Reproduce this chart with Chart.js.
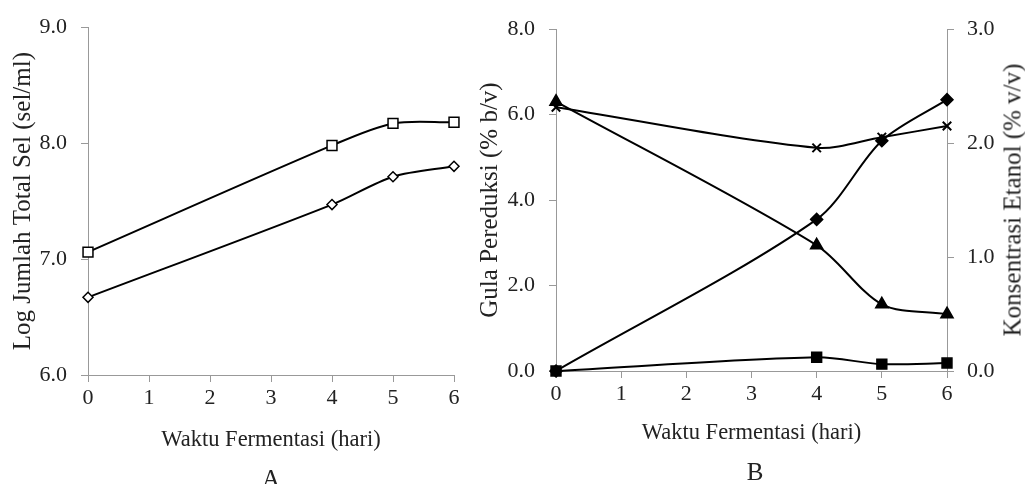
<!DOCTYPE html>
<html>
<head>
<meta charset="utf-8">
<script src="https://cdn.jsdelivr.net/npm/chart.js@4.4.1/dist/chart.umd.min.js"></script>
<style>
  body { margin: 0; background: #fff; }
  #wrap { position: relative; width: 1025px; height: 484px; overflow: hidden; }
  canvas { position: absolute; top: 0; }
  .lbl { position: absolute; font-family: "Liberation Serif", serif; font-size: 25px; line-height: 25px; color: #222; transform: translateX(-50%); }
  .rtitle { position: absolute; font-family: "Liberation Serif", serif; font-size: 25px; line-height: 25px; color: #222; white-space: nowrap;
    transform: translate(-50%, -50%) rotate(-90deg); }
</style>
</head>
<body>
<div id="wrap">
  <canvas id="chartA" width="470" height="484" style="left:0;width:470px;height:484px"></canvas>
  <canvas id="chartB" width="555" height="484" style="left:470px;width:555px;height:484px"></canvas>
  <div class="lbl" style="left:271px;top:466px">A</div>
  <div class="lbl" style="left:755px;top:459px">B</div>
  <div class="rtitle" style="left:1012px;top:200px">Konsentrasi Etanol (% v/v)</div>
</div>
<script>
// hari fermentasi
const days = [0, 4, 5, 6];

// grafik A: log jumlah total sel
const selKotak = [7.06, 7.98, 8.17, 8.18];
const selBelah = [6.67, 7.47, 7.71, 7.80];

// grafik B: gula pereduksi (sumbu kiri) & etanol (sumbu kanan)
const gulaSegitiga = [6.30, 2.94, 1.56, 1.33];
const gulaSilang = [6.17, 5.22, 5.47, 5.73];
const etanolBelah = [0.00, 1.33, 2.02, 2.38];
const etanolKotak = [0.00, 0.12, 0.06, 0.07];

const fontFam = '"Liberation Serif", "Times New Roman", serif';
const txt = '#222';
const axisCol = '#999';

function pts(vals) {
  return days.map((d, i) => ({ x: d, y: vals[i] }));
}

function line(vals, style, r, fill, axis) {
  return {
    data: pts(vals),
    yAxisID: axis || 'y',
    borderColor: '#000',
    borderWidth: 2,
    tension: 0.3,
    clip: false,
    pointStyle: style,
    pointRadius: r,
    pointHoverRadius: r,
    pointBackgroundColor: fill,
    pointBorderColor: '#000',
    pointBorderWidth: style === 'crossRot' ? 2 : 1.5,
    fill: false
  };
}

function xScale(h, pb) {
  return {
    type: 'linear', min: 0, max: 6,
    border: { color: axisCol, width: 1 },
    grid: { drawOnChartArea: false, drawTicks: true, tickLength: 7, color: axisCol },
    ticks: { stepSize: 1, color: txt, padding: 3, font: { family: fontFam, size: 22 } },
    title: { display: true, text: 'Waktu Fermentasi (hari)', color: txt,
      font: { family: fontFam, size: 22.5 }, padding: { top: 0, bottom: pb } },
    afterFit: s => { s.height = h; }
  };
}

function yScale(pos, min, max, step, w, lab, tp, pad) {
  return {
    type: 'linear', position: pos, min: min, max: max,
    border: { color: axisCol, width: 1 },
    grid: { drawOnChartArea: false, drawTicks: true, tickLength: 7, color: axisCol },
    ticks: { stepSize: step, color: txt, padding: pad, font: { family: fontFam, size: 22 },
      callback: v => v.toFixed(1) },
    title: { display: lab !== '', text: lab, color: txt,
      font: { family: fontFam, size: 25 }, padding: { top: tp, bottom: 0 } },
    afterFit: s => { s.width = w; }
  };
}

const common = {
  responsive: false,
  animation: false,
  plugins: { legend: { display: false }, tooltip: { enabled: false } },
  events: []
};

new Chart(document.getElementById('chartA'), {
  type: 'line',
  data: {
    datasets: [
      line(selKotak, 'rect', 7, '#fff'),
      line(selBelah, 'rectRot', 5, '#fff')
    ]
  },
  options: Object.assign({}, common, {
    layout: { padding: { top: 23, right: 16, left: 0, bottom: 0 } },
    scales: {
      x: xScale(109, 30),
      y: yScale('left', 6, 9, 1, 88, 'Log Jumlah Total Sel (sel/ml)', 8, 14)
    }
  })
});

new Chart(document.getElementById('chartB'), {
  type: 'line',
  data: {
    datasets: [
      line(gulaSilang, 'crossRot', 6, '#000'),
      line(gulaSegitiga, 'triangle', 7, '#000'),
      line(etanolBelah, 'rectRot', 6, '#000', 'y1'),
      line(etanolKotak, 'rect', 7, '#000', 'y1')
    ]
  },
  options: Object.assign({}, common, {
    layout: { padding: { top: 29, right: 0, left: 0, bottom: 0 } },
    scales: {
      x: xScale(113, 37),
      y: yScale('left', 0, 8, 2, 86, 'Gula Pereduksi (% b/v)', 5, 14),
      y1: yScale('right', 0, 3, 1, 78, '', 0, 13)
    }
  })
});
</script>
</body>
</html>
